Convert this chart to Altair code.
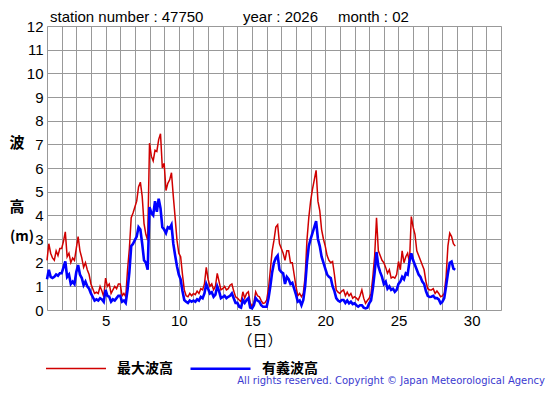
import altair as alt
import pandas as pd

# ---- data (3-hourly readings, days 1..28, hours 0,3,...,21) ----
days = list(range(1, 29))
hours = [0, 3, 6, 9, 12, 15, 18, 21]

max_wave = [
    2.1, 2.8, 2.4, 2.2, 2.1, 2.5, 2.3, 2.6,      # 1
    2.6, 2.9, 3.3, 2.25, 2.4, 2.0, 2.2, 2.1,     # 2
    2.6, 3.1, 2.5, 2.2, 1.8, 2.0, 1.7, 1.5,      # 3
    1.1, 0.9, 0.7, 0.75, 0.7, 1.0, 0.8, 0.56,    # 4
    1.35, 1.0, 1.1, 0.7, 0.85, 1.0, 0.9, 1.1,    # 5
    1.1, 0.6, 0.7, 0.56, 1.7, 2.6, 3.9, 4.1,     # 6
    4.35, 4.6, 5.2, 5.4, 4.8, 3.65, 3.2, 2.95,   # 7
    7.05, 6.5, 6.3, 6.75, 6.7, 7.2, 7.45, 6.0,   # 8
    6.2, 5.05, 5.35, 5.5, 5.8, 4.8, 3.9, 2.95,   # 9
    2.4, 2.25, 1.5, 0.85, 0.6, 0.56, 0.7, 0.6,   # 10
    0.7, 0.65, 0.8, 0.7, 0.9, 0.85, 1.1, 1.8,    # 11
    1.3, 1.0, 1.1, 0.85, 1.0, 1.55, 1.2, 0.85,   # 12
    0.9, 1.0, 0.85, 0.9, 1.05, 1.1, 0.8, 0.56,   # 13
    0.5, 0.42, 0.35, 0.77, 0.5, 0.7, 0.77, 0.3,  # 14
    0.14, 0.3, 0.77, 0.6, 0.56, 0.4, 0.28, 0.3,  # 15
    0.42, 0.9, 1.7, 2.5, 2.95, 3.5, 3.6, 2.8,    # 16
    2.6, 2.4, 2.1, 2.5, 2.5, 2.0, 2.0, 1.5,      # 17
    1.0, 0.6, 0.7, 0.56, 0.7, 1.4, 2.95, 3.9,    # 18
    4.6, 5.1, 5.5, 5.9, 4.6, 4.2, 3.4, 3.0,      # 19
    2.7, 2.3, 2.1, 2.0, 2.05, 1.5, 0.85, 0.75,   # 20
    0.7, 0.8, 0.85, 0.6, 0.75, 0.6, 0.7, 0.5,    # 21
    0.56, 0.5, 0.42, 0.6, 0.85, 0.5, 0.28, 0.4,  # 22
    0.5, 0.7, 1.4, 2.3, 3.9, 2.5, 2.3, 2.1,      # 23
    2.0, 1.8, 1.55, 1.7, 1.35, 1.4, 1.35, 1.5,   # 24
    2.05, 1.7, 2.5, 2.0, 2.25, 2.4, 2.0, 3.95,   # 25
    3.5, 3.2, 2.5, 2.3, 2.1, 1.9, 1.7, 1.2,      # 26
    0.9, 0.85, 0.85, 0.9, 0.7, 0.8, 0.7, 0.56,   # 27
    0.6, 0.7, 1.4, 2.7, 3.25, 3.1, 2.8, 2.7,     # 28
]

sig_wave = [
    1.3, 1.7, 1.4, 1.35, 1.4, 1.5, 1.45, 1.55,   # 1
    1.55, 1.8, 2.05, 1.4, 1.5, 1.1, 1.2, 1.1,    # 2
    1.6, 1.9, 1.5, 1.35, 1.05, 1.2, 1.0, 0.9,    # 3
    0.7, 0.55, 0.4, 0.45, 0.4, 0.5, 0.45, 0.35,  # 4
    0.85, 0.6, 0.56, 0.35, 0.45, 0.4, 0.5, 0.6,  # 5
    0.6, 0.35, 0.4, 0.3, 0.85, 1.6, 2.7, 2.8,    # 6
    2.95, 3.1, 3.5, 3.4, 2.8, 2.1, 2.0, 1.7,     # 7
    4.35, 4.1, 4.0, 4.6, 4.15, 4.7, 4.3, 3.5,    # 8
    3.4, 3.25, 3.5, 3.45, 3.6, 2.8, 2.3, 1.85,   # 9
    1.5, 1.3, 0.8, 0.42, 0.35, 0.3, 0.4, 0.35,   # 10
    0.4, 0.35, 0.45, 0.4, 0.55, 0.5, 0.7, 1.1,   # 11
    0.9, 0.7, 0.75, 0.56, 0.65, 1.0, 0.8, 0.5,   # 12
    0.55, 0.6, 0.5, 0.56, 0.6, 0.7, 0.5, 0.3,    # 13
    0.3, 0.14, 0.1, 0.42, 0.3, 0.42, 0.5, 0.1,   # 14
    0.07, 0.2, 0.5, 0.4, 0.35, 0.2, 0.14, 0.14,  # 15
    0.14, 0.5, 1.0, 1.6, 2.0, 2.2, 2.3, 1.7,     # 16
    1.6, 1.55, 1.1, 1.4, 1.3, 1.1, 1.15, 0.9,    # 17
    0.65, 0.35, 0.4, 0.2, 0.42, 1.0, 2.0, 2.7,   # 18
    3.0, 3.25, 3.5, 3.75, 3.0, 2.7, 2.25, 2.0,   # 19
    1.75, 1.5, 1.4, 1.35, 1.0, 0.8, 0.5, 0.4,    # 20
    0.35, 0.42, 0.42, 0.3, 0.4, 0.28, 0.35, 0.25,  # 21
    0.28, 0.2, 0.14, 0.2, 0.2, 0.1, 0.07, 0.1,   # 22
    0.28, 0.4, 0.9, 1.6, 2.45, 1.85, 1.6, 1.4,   # 23
    1.1, 1.2, 0.9, 1.0, 0.85, 0.9, 0.77, 0.85,   # 24
    1.1, 1.2, 1.4, 1.3, 1.55, 1.5, 2.05, 2.4,    # 25
    2.1, 1.9, 1.7, 1.5, 1.4, 1.2, 1.1, 0.8,      # 26
    0.6, 0.55, 0.56, 0.6, 0.5, 0.5, 0.45, 0.28,  # 27
    0.35, 0.5, 1.0, 1.55, 2.0, 2.05, 1.75, 1.7,  # 28
]

series_names = ["最大波高", "有義波高"]
series_colors = ["#d00000", "#0000ff"]
series_widths = [1.5, 2.6]

title_parts = ["station number : 47750", "year : 2026", "month : 02"]
y_title_chars = ["波", "高", "(m)"]
x_title = "（日）"
copyright_text = "All rights reserved. Copyright © Japan Meteorological Agency"

x_grid_values = list(range(1, 33))
y_grid_values = list(range(0, 13))

rows = []
for i, (m, s) in enumerate(zip(max_wave, sig_wave)):
    x = days[i // 8] + hours[i % 8] / 24.0
    rows.append({"day": x, "series": series_names[0], "value": m})
    rows.append({"day": x, "series": series_names[1], "value": s})
df = pd.DataFrame(rows)

NUM_FONT = "Liberation Sans"
CJK_FONT = "Noto Sans CJK JP"

lines = alt.Chart(df).mark_line(interpolate="linear").encode(
    x=alt.X("day:Q",
            scale=alt.Scale(domain=[1, 32], nice=False, zero=False),
            axis=alt.Axis(values=x_grid_values,
                          labelExpr="datum.value % 5 == 0 ? datum.label : ''",
                          grid=True, gridColor="#999999", gridWidth=1,
                          ticks=False, domain=False, title=None,
                          labelFont=NUM_FONT, labelFontSize=15, labelColor="black",
                          labelPadding=3, labelOverlap=False, labelFlush=False)),
    y=alt.Y("value:Q",
            scale=alt.Scale(domain=[0, 12], nice=False, zero=True),
            axis=alt.Axis(values=y_grid_values,
                          grid=True, gridColor="#999999", gridWidth=1,
                          ticks=False, domain=False, title=None,
                          labelFont=NUM_FONT, labelFontSize=15, labelColor="black",
                          labelPadding=4, labelOverlap=False, labelFlush=False)),
    color=alt.Color("series:N",
                    scale=alt.Scale(domain=series_names, range=series_colors),
                    sort=series_names,
                    legend=alt.Legend(orient="none", legendX=-2, legendY=311,
                                      direction="horizontal", title=None,
                                      symbolType="stroke", symbolSize=3600,
                                      symbolStrokeWidth=3,
                                      labelFont=CJK_FONT, labelFontSize=14,
                                      labelFontWeight="bold", labelColor="black",
                                      labelOffset=10, columnPadding=12)),
    strokeWidth=alt.StrokeWidth("series:N",
                                scale=alt.Scale(domain=series_names, range=series_widths),
                                legend=None),
    order=alt.Order("day:Q"),
)

title_df = pd.DataFrame({"t": title_parts, "px": [3, 196, 291]})
title_layer = alt.Chart(title_df).mark_text(
    align="left", baseline="middle", font=NUM_FONT, fontSize=15, color="black"
).encode(text="t:N", x=alt.X("px:Q", scale=None), y=alt.value(-9))

ytitle_df = pd.DataFrame({"t": y_title_chars[:2], "py": [117, 181]})
ytitle_layer = alt.Chart(ytitle_df).mark_text(
    align="center", baseline="middle", font=CJK_FONT, fontSize=15,
    fontWeight="bold", color="black"
).encode(text="t:N", x=alt.value(-30), y=alt.Y("py:Q", scale=None))

unit_layer = alt.Chart(pd.DataFrame({"t": [y_title_chars[2]]})).mark_text(
    align="left", baseline="middle", font=CJK_FONT, fontSize=14,
    fontWeight="bold", color="black"
).encode(text="t:N", x=alt.value(-37), y=alt.value(211))

xtitle_layer = alt.Chart(pd.DataFrame({"t": [x_title]})).mark_text(
    align="center", baseline="middle", font=CJK_FONT, fontSize=15, color="black"
).encode(text="t:N", x=alt.value(213), y=alt.value(315))

copy_layer = alt.Chart(pd.DataFrame({"t": [copyright_text]})).mark_text(
    align="right", baseline="middle", font="DejaVu Sans", fontSize=10, color="#3a3ad0"
).encode(text="t:N", x=alt.value(498), y=alt.value(355))

chart = alt.layer(lines, title_layer, ytitle_layer, unit_layer, xtitle_layer, copy_layer).properties(
    width=454, height=284,
    autosize=alt.AutoSizeParams(type="none"),
    padding={"left": 39, "top": 18, "right": 46, "bottom": 77},
).configure_view(stroke="black", strokeWidth=1.5).configure(background="white")

chart.save("out.html", embed_options={"renderer": "svg", "actions": False})
